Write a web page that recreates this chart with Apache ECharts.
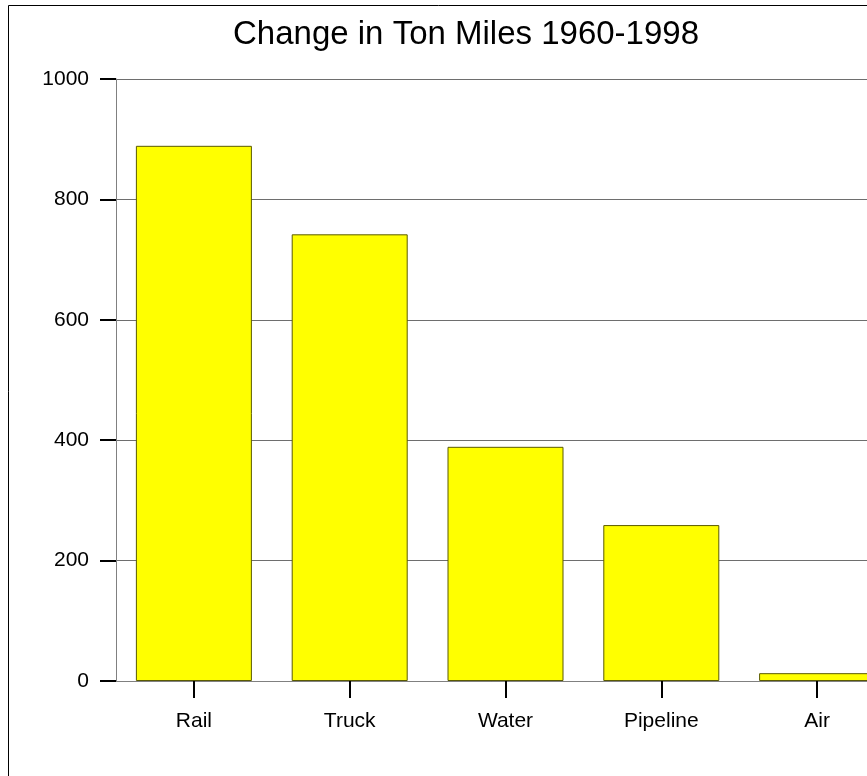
<!DOCTYPE html>
<html>
<head>
<meta charset="utf-8">
<script src="https://cdn.jsdelivr.net/npm/echarts@6/dist/echarts.min.js"></script>
<style>
  html, body { margin: 0; padding: 0; background: #fff; }
  #main { width: 867px; height: 776px; }
</style>
</head>
<body>
<div id="main"></div>
<script>
// data
var categories = ['Rail', 'Truck', 'Water', 'Pipeline', 'Air'];
var tonMiles = [889, 742, 389, 259, 13];
var yTicks = [0, 200, 400, 600, 800, 1000];

var chart = echarts.init(document.getElementById('main'));
chart.setOption({
  animation: false,
  backgroundColor: '#fff',
  title: {
    text: 'Change in Ton Miles 1960-1998',
    left: 461,
    top: 13,
    textAlign: 'center',
    textStyle: { fontFamily: 'Liberation Sans', fontSize: 33, fontWeight: 'normal', color: '#000' }
  },
  // outer frame, its right and bottom edges fall outside the picture
  graphic: [{
    type: 'rect',
    shape: { x: 8.5, y: 5.5, width: 950, height: 850 },
    style: { fill: 'none', stroke: '#000', lineWidth: 1 },
    silent: true
  }],
  // plot runs past the right edge of the picture, as in the original
  grid: { left: 116, top: 79, height: 602, width: 779, outerBoundsMode: 'none' },
  xAxis: {
    type: 'category',
    data: categories,
    axisLine: { show: true, lineStyle: { color: '#808080', width: 1 } },
    axisTick: { show: true, alignWithLabel: true, length: 17, lineStyle: { color: '#000', width: 2 } },
    axisLabel: { margin: 30, fontFamily: 'Liberation Sans', fontSize: 21, color: '#000' }
  },
  yAxis: {
    type: 'value',
    min: yTicks[0],
    max: yTicks[yTicks.length - 1],
    interval: 200,
    axisLine: { show: true, lineStyle: { color: '#808080', width: 1 } },
    axisTick: { show: true, length: 16, lineStyle: { color: '#000', width: 2 } },
    axisLabel: { margin: 27, fontFamily: 'Liberation Sans', fontSize: 21, color: '#000', formatter: function (v) { return String(v); } },
    splitLine: { show: true, lineStyle: { color: '#6e6e6e', width: 1 } }
  },
  series: [{
    type: 'bar',
    data: tonMiles,
    barWidth: 116,
    itemStyle: { color: '#ffff00', borderColor: '#5a5a00', borderWidth: 1 }
  }]
});
</script>
</body>
</html>
